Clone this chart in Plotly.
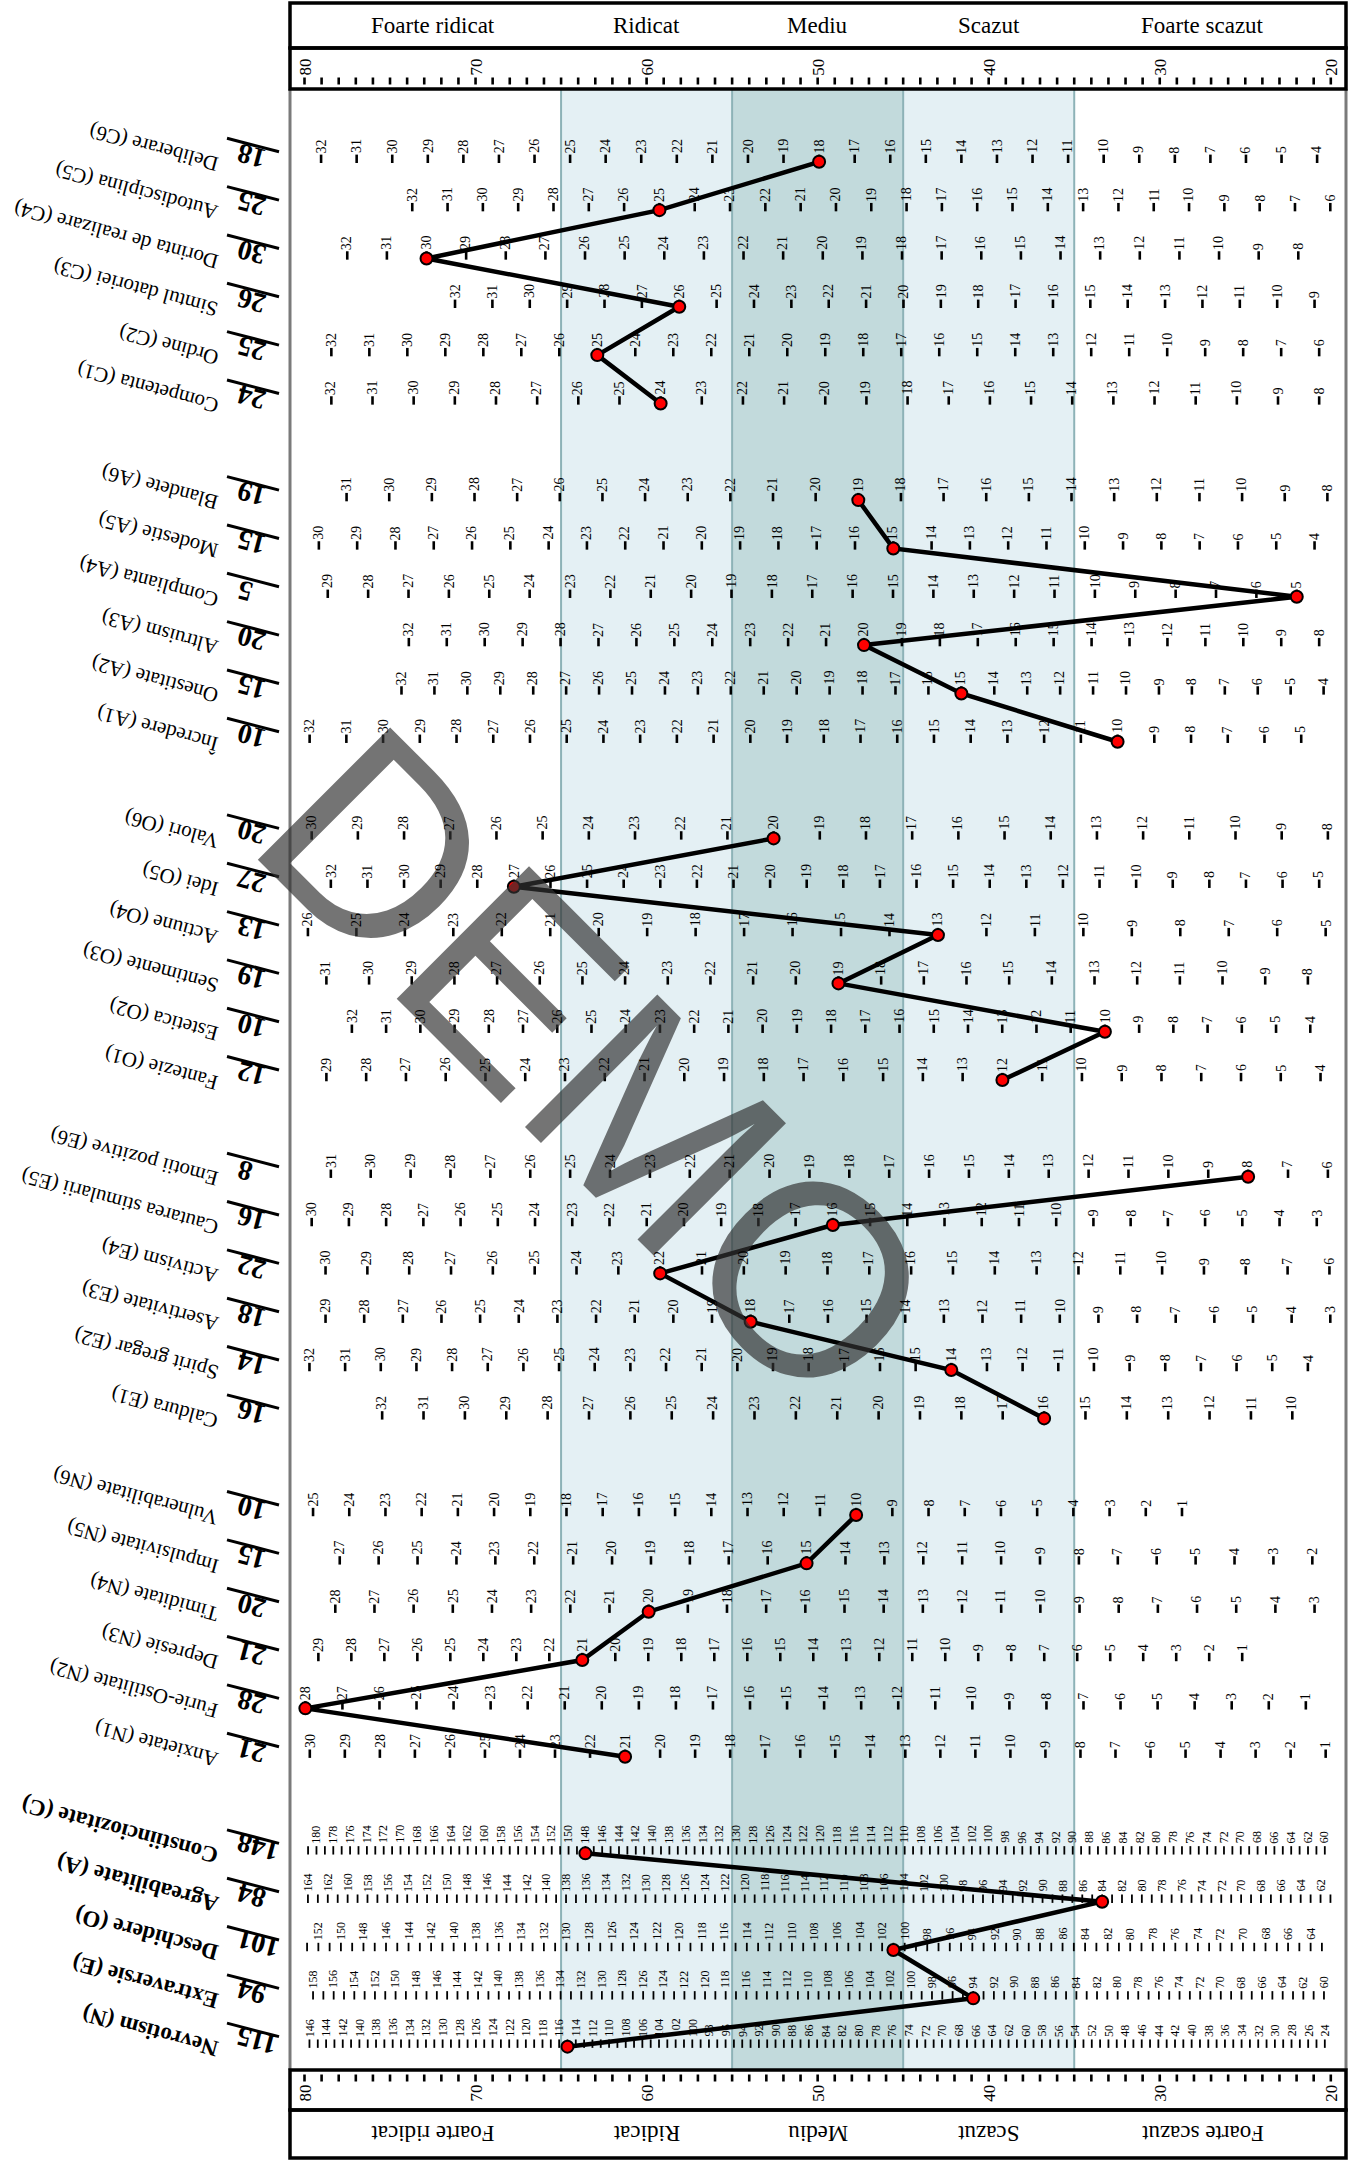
import plotly.graph_objects as go

SERIF = "Liberation Serif"
W, H = 1350, 2168
PLOT_L, PLOT_R = 290, 1346
X80_PX, PX_PER_T = 304.5, 17.105
HDR_TOP, HDR_MID, MAIN_TOP = 3, 48, 89
MAIN_BOT, FTR_MID, FTR_BOT = 2070, 2110, 2158
ROW0_Y, ROW_PITCH = 161.8, 48.33

# ---------------- data ----------------
band_titles = ["Foarte ridicat", "Ridicat", "Mediu", "Scazut", "Foarte scazut"]
band_edges = [80, 65, 55, 45, 35, 20]
t_axis_labels = [80, 70, 60, 50, 40, 30, 20]
t_axis_minor = list(range(20, 81))

facet_labels = [
    "Deliberare (C6)", "Autodisciplina (C5)", "Dorinta de realizare (C4)",
    "Simtul datoriei (C3)", "Ordine (C2)", "Competenta (C1)",
    "Blandete (A6)", "Modestie (A5)", "Complianta (A4)",
    "Altruism (A3)", "Onestitate (A2)", "Încredere (A1)",
    "Valori (O6)", "Idei (O5)", "Actiune (O4)",
    "Sentimente (O3)", "Estetica (O2)", "Fantezie (O1)",
    "Emotii pozitive (E6)", "Cautarea stimularii (E5)", "Activism (E4)",
    "Asertivitate (E3)", "Spirit gregar (E2)", "Caldura (E1)",
    "Vulnerabilitate (N6)", "Impulsivitate (N5)", "Timiditate (N4)",
    "Depresie (N3)", "Furie-Ostilitate (N2)", "Anxietate (N1)",
]
facet_scores = [18, 25, 30, 26, 25, 24,
                19, 15, 5, 20, 15, 10,
                20, 27, 13, 19, 10, 12,
                8, 16, 22, 18, 14, 16,
                10, 15, 20, 21, 28, 21]
facet_raw_hi = [32, 32, 32, 32, 32, 32,
                31, 30, 29, 32, 32, 32,
                30, 32, 26, 31, 32, 29,
                31, 30, 30, 29, 32, 32,
                25, 27, 28, 29, 28, 30]
facet_raw_lo = [4, 6, 8, 9, 6, 8,
                8, 4, 5, 8, 4, 5,
                8, 5, 5, 8, 4, 4,
                6, 3, 6, 3, 4, 10,
                1, 2, 3, 1, 1, 1]
facet_t_hi = [79.03, 73.7, 77.5, 71.2, 78.43, 78.43,
              77.54, 79.16, 78.64, 73.9, 74.33, 79.7,
              79.58, 78.46, 79.8, 78.72, 77.23, 78.72,
              78.46, 79.58, 78.77, 78.77, 79.71, 75.46,
              79.5, 77.94, 78.2, 79.19, 79.95, 79.69]
facet_t_lo = [20.8, 20.03, 21.9, 20.95, 20.68, 20.68,
              20.2, 20.95, 21.99, 20.68, 20.42, 21.73,
              20.17, 20.68, 20.3, 21.34, 21.2, 20.6,
              20.17, 20.82, 20.08, 20.03, 21.34, 22.25,
              28.7, 21.08, 20.95, 25.18, 21.46, 20.3]

domain_labels = ["Constiinciozitate (C)", "Agreabilitate (A)", "Deschidere (O)",
                 "Extraversie (E)", "Nevrotism (N)"]
domain_scores = [148, 84, 101, 94, 115]
domain_lab_hi = [180, 164, 152, 158, 146]
domain_lab_lo = [60, 62, 64, 60, 24]
domain_tick_hi = [181, 164, 153, 158, 146]
domain_tick_lo = [60, 61, 63, 60, 24]
domain_t_hi = [79.3, 79.8, 79.19, 79.5, 79.71]
domain_t_lo = [20.35, 20.6, 21.18, 20.4, 20.35]

# ---------------- helpers ----------------
def t_from_px(px):
    return 80 - (px - X80_PX) / PX_PER_T

def paper_x(px):
    return (px - PLOT_L) / (PLOT_R - PLOT_L)

def raw_to_t(raw, hi, lo, thi, tlo):
    return tlo + (raw - lo) * (thi - tlo) / (hi - lo)

def facet_row_y(k):
    g, j = divmod(k, 6)
    return ROW0_Y + (g * 7 + j) * ROW_PITCH

def domain_row_y(d):
    return ROW0_Y + (35 + d) * ROW_PITCH

annotations = []
def ann(x, y, text, size, angle=0, xref="x", yref="y", xanchor="center",
        yanchor="middle", color="black", family=SERIF):
    annotations.append(dict(x=x, y=y, xref=xref, yref=yref, text=text, showarrow=False,
                            textangle=angle, xanchor=xanchor, yanchor=yanchor, borderpad=0,
                            font=dict(family=family, size=size, color=color)))

shapes = []

# watermark (first so other text lies on it)
ann(t_from_px(597), 1066, "DEMO", 272, angle=45, family="Liberation Sans",
    color="rgba(50,50,50,0.68)")

fig = go.Figure()

# ---------------- facet rows ----------------
tick_x, tick_y = [], []
for k in range(30):
    y = facet_row_y(k)
    hi, lo, thi, tlo = facet_raw_hi[k], facet_raw_lo[k], facet_t_hi[k], facet_t_lo[k]
    for r in range(lo, hi + 1):
        t = raw_to_t(r, hi, lo, thi, tlo)
        tick_x.append(t)
        tick_y.append(y - 3)
        ann(t, y - 7.5, str(r), 14, angle=-90, yanchor="bottom")

# ---------------- domain rows ----------------
dtick_x, dtick_y = [], []
for d in range(5):
    y = domain_row_y(d)
    args = (domain_lab_hi[d], domain_lab_lo[d], domain_t_hi[d], domain_t_lo[d])
    for r in range(domain_tick_lo[d], domain_tick_hi[d] + 1):
        dtick_x.append(raw_to_t(r, *args))
        dtick_y.append(y - 3)
    for r in range(domain_lab_lo[d], domain_lab_hi[d] + 1, 2):
        ann(raw_to_t(r, *args), y - 9, str(r), 12, angle=-90, yanchor="bottom")

fig.add_trace(go.Scatter(x=tick_x, y=tick_y, mode="markers", hoverinfo="skip",
                         marker=dict(symbol="line-ns", size=6, color="black",
                                     line=dict(width=2.6, color="black"))))
fig.add_trace(go.Scatter(x=dtick_x, y=dtick_y, mode="markers", hoverinfo="skip",
                         marker=dict(symbol="line-ns", size=6, color="black",
                                     line=dict(width=1.8, color="black"))))

# T axis ticks top and bottom
ax_x = t_axis_minor + t_axis_minor
ax_y = [81] * len(t_axis_minor) + [2078] * len(t_axis_minor)
fig.add_trace(go.Scatter(x=ax_x, y=ax_y, mode="markers", hoverinfo="skip",
                         marker=dict(symbol="line-ns", size=5, color="black",
                                     line=dict(width=2.6, color="black"))))
for v in t_axis_labels:
    ann(v, 67, str(v), 17, angle=-90)
    ann(v, 2093, str(v), 17, angle=-90)

# ---------------- profile lines ----------------
px_, py_ = [], []
for k in range(30):
    if k > 0 and k % 6 == 0:
        px_.append(None)
        py_.append(None)
    px_.append(raw_to_t(facet_scores[k], facet_raw_hi[k], facet_raw_lo[k],
                        facet_t_hi[k], facet_t_lo[k]))
    py_.append(facet_row_y(k))
px_.append(None)
py_.append(None)
for d in range(5):
    px_.append(raw_to_t(domain_scores[d], domain_lab_hi[d], domain_lab_lo[d],
                        domain_t_hi[d], domain_t_lo[d]))
    py_.append(domain_row_y(d))

fig.add_trace(go.Scatter(x=px_, y=py_, mode="lines+markers", hoverinfo="skip",
                         line=dict(color="black", width=4.5),
                         marker=dict(size=12, color="#ff0000",
                                     line=dict(width=2, color="black"))))

# ---------------- left labels ----------------
def left_label(y, score, label, bold_label, lsize):
    ann(paper_x(233), y - 6, "<b>%d</b>" % score, 28, angle=-165, xref="paper",
        xanchor="left")
    shapes.append(dict(type="line", xref="paper", yref="y",
                       x0=paper_x(227), y0=y - 23.5, x1=paper_x(279), y1=y - 10,
                       line=dict(color="black", width=3)))
    txt = "<b>%s</b>" % label if bold_label else label
    ann(paper_x(222), y + 16, txt, lsize, angle=-165, xref="paper",
        xanchor="right", yanchor="bottom")

for k in range(30):
    left_label(facet_row_y(k), facet_scores[k], facet_labels[k], False, 21)
for d in range(5):
    left_label(domain_row_y(d), domain_scores[d], domain_labels[d], True, 23)

# ---------------- bands / frame ----------------
LIGHT = "#e4f0f4"
MID = "#c2dadc"
LINEC = "#8db2b7"
for a, b, c in [(65, 55, LIGHT), (55, 45, MID), (45, 35, LIGHT)]:
    shapes.append(dict(type="rect", xref="x", yref="y", x0=a, x1=b, y0=MAIN_TOP, y1=MAIN_BOT,
                       fillcolor=c, line=dict(width=0), layer="below"))
for v in band_edges[1:-1]:
    shapes.append(dict(type="line", xref="x", yref="y", x0=v, x1=v, y0=MAIN_TOP, y1=MAIN_BOT,
                       line=dict(color=LINEC, width=2), layer="below"))
for xp in (0, 1):
    shapes.append(dict(type="line", xref="paper", yref="y", x0=xp, x1=xp,
                       y0=MAIN_TOP, y1=MAIN_BOT, line=dict(color="#7a7a7a", width=3)))
for y0, y1 in [(HDR_TOP, HDR_MID), (HDR_MID, MAIN_TOP), (MAIN_BOT, FTR_MID), (FTR_MID, FTR_BOT)]:
    shapes.append(dict(type="rect", xref="paper", yref="y", x0=0, x1=1, y0=y0, y1=y1,
                       line=dict(color="black", width=3.5), fillcolor="rgba(0,0,0,0)"))

for i, name in enumerate(band_titles):
    c = (band_edges[i] + band_edges[i + 1]) / 2
    ann(c, 25.5, name, 23)
    ann(c, 2134, name, 23, angle=180)

fig.update_layout(
    width=W, height=H,
    margin=dict(l=PLOT_L, r=W - PLOT_R, t=0, b=0),
    paper_bgcolor="white", plot_bgcolor="white",
    showlegend=False,
    xaxis=dict(range=[t_from_px(PLOT_L), t_from_px(PLOT_R)], visible=False,
               showgrid=False, zeroline=False, fixedrange=True),
    yaxis=dict(range=[H, 0], visible=False, showgrid=False, zeroline=False,
               fixedrange=True),
    annotations=annotations,
    shapes=shapes,
)

fig.write_html("out.html", config={"displayModeBar": False},
               post_script="document.body.style.margin='0';document.body.style.overflow='hidden';")
